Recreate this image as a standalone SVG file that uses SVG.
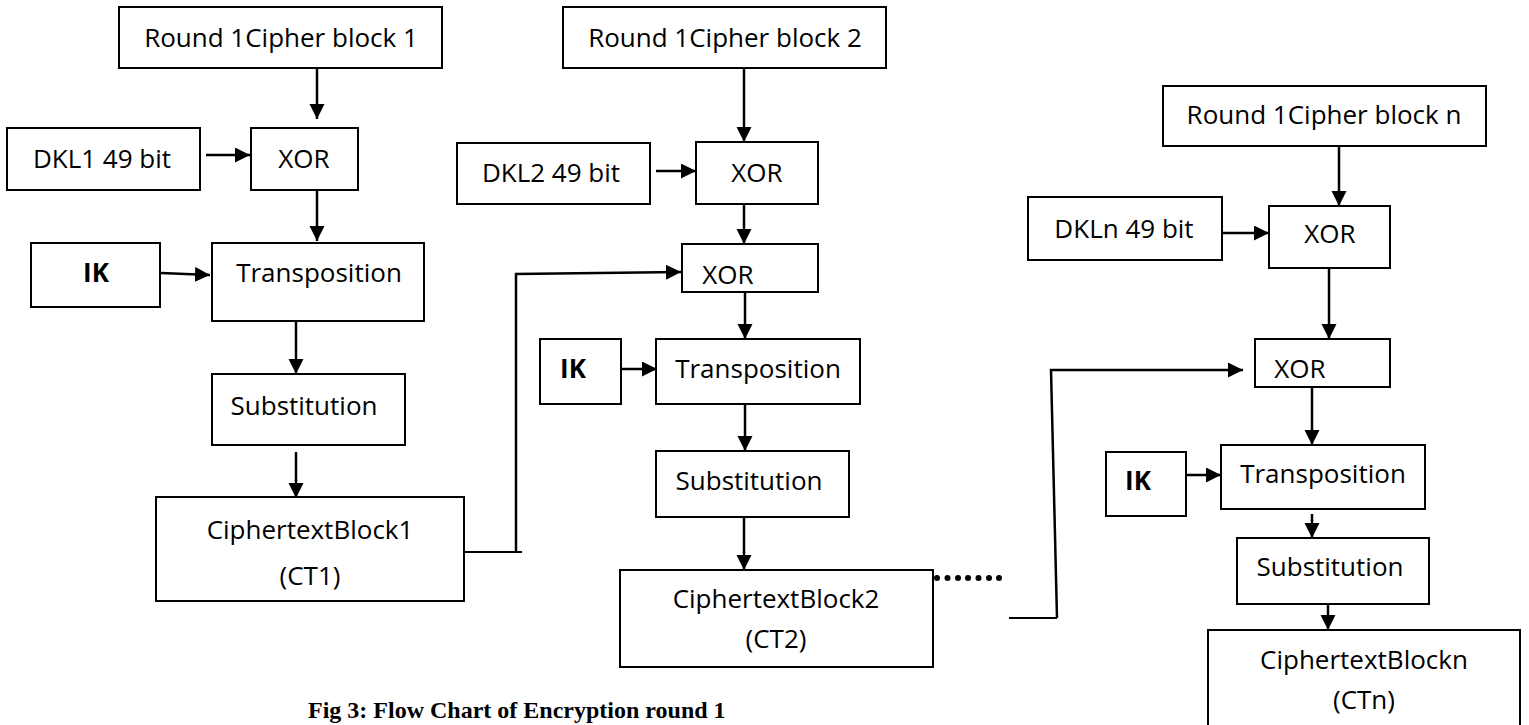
<svg xmlns="http://www.w3.org/2000/svg" width="1529" height="725" viewBox="0 0 1529 725">
<style>
.box{fill:#fff;stroke:#000;stroke-width:2}
.t{font-family:"Open Sans","Noto Sans",sans-serif;font-size:26px;fill:#000;text-anchor:middle}
.b{font-weight:bold}
.ln{fill:none;stroke:#000;stroke-width:2}
.ar{fill:none;stroke:#000;stroke-width:2.5;marker-end:url(#ah)}
.cap{font-family:"Liberation Serif","Times New Roman",serif;font-size:24px;font-weight:bold;fill:#000}
</style>
<defs>
<marker id="ah" markerUnits="userSpaceOnUse" markerWidth="16" markerHeight="16" refX="15" refY="7.5" orient="auto">
<path d="M0,0 L15,7.5 L0,15 z" fill="#000"/>
</marker>
</defs>
<rect width="1529" height="725" fill="#fff"/>

<g id="connectors">
<path class="ar" d="M317,68 V119"/>
<path class="ar" d="M206,155 H250"/>
<path class="ar" d="M317,190 V241"/>
<path class="ar" d="M161,273 L210,275"/>
<path class="ar" d="M296,321 V374"/>
<path class="ar" d="M296,452 V498"/>
<path class="ln" d="M457,552 H522"/>
<path class="ar" d="M516,552 V274 L681,272"/>

<path class="ar" d="M744,68 V142"/>
<path class="ar" d="M656,171 H696"/>
<path class="ar" d="M744,204 V244"/>
<path class="ar" d="M745,292 V339"/>
<path class="ar" d="M620,369 H657"/>
<path class="ar" d="M745,404 V451"/>
<path class="ar" d="M744,517 V570"/>
<g id="dots" fill="#000">
<circle cx="937" cy="578" r="3"/><circle cx="947.5" cy="578" r="3"/><circle cx="958" cy="578" r="3"/><circle cx="968" cy="578" r="3"/><circle cx="978.5" cy="578" r="3"/><circle cx="989" cy="578" r="3"/><circle cx="999" cy="578" r="3"/>
</g>
<path class="ln" d="M1009,618 H1057"/>
<path class="ar" d="M1057,618 L1051,370 H1243"/>

<path class="ar" d="M1339,146 V206"/>
<path class="ar" d="M1222,233 H1269"/>
<path class="ar" d="M1329,268 V339"/>
<path class="ar" d="M1312,387 V445"/>
<path class="ar" d="M1186,475 H1221"/>
<path class="ar" d="M1312,514 V538"/>
<path class="ar" d="M1328,604 V630"/>
</g>

<g id="b1"><rect class="box" x="119" y="7" width="323" height="61"/><text class="t" x="281" y="47">Round 1Cipher block 1</text></g>
<g id="dkl1"><rect class="box" x="7" y="128" width="193" height="62"/><text class="t" x="102" y="168">DKL1 49 bit</text></g>
<g id="xor1"><rect class="box" x="251" y="128" width="107" height="62"/><text class="t" x="304" y="168">XOR</text></g>
<g id="ik1"><rect class="box" x="31" y="243" width="129" height="64"/><text class="t b" x="96" y="282">IK</text></g>
<g id="trans1"><rect class="box" x="212" y="243" width="212" height="78"/><text class="t" x="319" y="282">Transposition</text></g>
<g id="subst1"><rect class="box" x="212" y="374" width="193" height="71"/><text class="t" x="304" y="415">Substitution</text></g>
<g id="ct1"><rect class="box" x="156" y="497" width="308" height="104"/><text class="t" x="310" y="539">CiphertextBlock1</text><text class="t" x="310" y="585">(CT1)</text></g>

<g id="b2"><rect class="box" x="563" y="7" width="323" height="61"/><text class="t" x="725" y="47">Round 1Cipher block 2</text></g>
<g id="dkl2"><rect class="box" x="457" y="143" width="193" height="61"/><text class="t" x="551" y="182">DKL2 49 bit</text></g>
<g id="xor2a"><rect class="box" x="696" y="142" width="122" height="62"/><text class="t" x="757" y="182">XOR</text></g>
<g id="xor2b"><rect class="box" x="682" y="244" width="136" height="48"/><text class="t" x="728" y="284">XOR</text></g>
<g id="ik2"><rect class="box" x="540" y="339" width="81" height="65"/><text class="t b" x="573" y="378">IK</text></g>
<g id="trans2"><rect class="box" x="656" y="339" width="204" height="65"/><text class="t" x="758" y="378">Transposition</text></g>
<g id="subst2"><rect class="box" x="656" y="451" width="193" height="66"/><text class="t" x="749" y="490">Substitution</text></g>
<g id="ct2"><rect class="box" x="620" y="570" width="313" height="97"/><text class="t" x="776" y="608">CiphertextBlock2</text><text class="t" x="776" y="648">(CT2)</text></g>

<g id="bn"><rect class="box" x="1163" y="86" width="323" height="60"/><text class="t" x="1324" y="124">Round 1Cipher block n</text></g>
<g id="dkln"><rect class="box" x="1028" y="197" width="194" height="63"/><text class="t" x="1124" y="238">DKLn 49 bit</text></g>
<g id="xorn1"><rect class="box" x="1269" y="206" width="121" height="62"/><text class="t" x="1330" y="243">XOR</text></g>
<g id="xorn2"><rect class="box" x="1255" y="339" width="135" height="48"/><text class="t" x="1300" y="378">XOR</text></g>
<g id="ikn"><rect class="box" x="1106" y="452" width="80" height="64"/><text class="t b" x="1138" y="490">IK</text></g>
<g id="transn"><rect class="box" x="1221" y="445" width="204" height="64"/><text class="t" x="1323" y="483">Transposition</text></g>
<g id="substn"><rect class="box" x="1237" y="538" width="192" height="66"/><text class="t" x="1330" y="576">Substitution</text></g>
<g id="ctn"><path class="box" d="M1208,725 V630 H1520 V725"/><text class="t" x="1364" y="669">CiphertextBlockn</text><text class="t" x="1364" y="709">(CTn)</text></g>

<text class="cap" x="308" y="718">Fig 3: Flow Chart of Encryption round 1</text>
</svg>
